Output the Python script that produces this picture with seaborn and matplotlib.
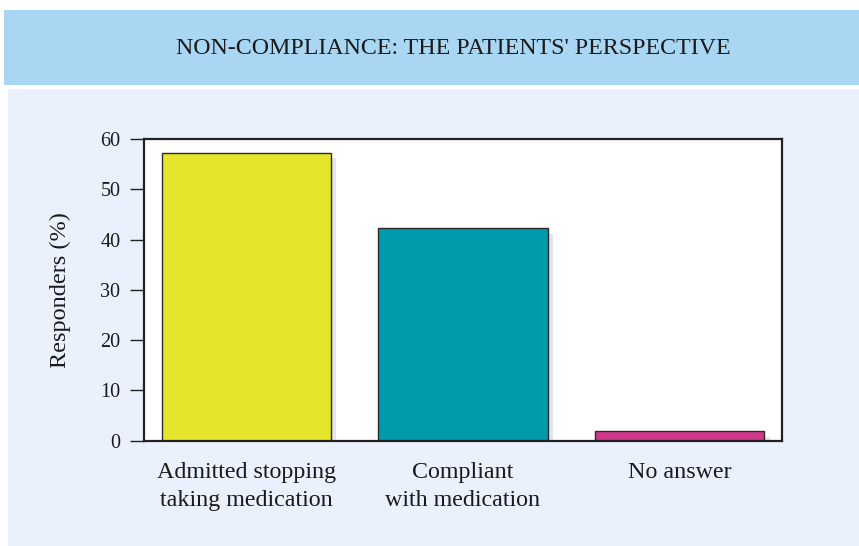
import matplotlib
matplotlib.use("Agg")
import matplotlib.pyplot as plt
import matplotlib.patches as mpatches
import matplotlib.patheffects as pe
import seaborn as sns
import pandas as pd

categories = ["Admitted stopping\ntaking medication", "Compliant\nwith medication", "No answer"]
responders = [57.3, 42.3, 1.9]
bar_colors = ["#e5e52c", "#009aad", "#d1378a"]
title = "NON-COMPLIANCE: THE PATIENTS' PERSPECTIVE"
y_ticks = [0, 10, 20, 30, 40, 50, 60]

sns.set_theme(style="white")
plt.rcParams["font.family"] = ["Liberation Serif", "DejaVu Serif"]

W, H = 859, 546
fig = plt.figure(figsize=(W / 100, H / 100), dpi=100)
fig.patch.set_facecolor("white")

# header band and panel background
fig.patches.append(mpatches.Rectangle((4 / W, 1 - 85 / H), 1 - 4 / W, 75 / H,
                                      transform=fig.transFigure, facecolor="#a8d6f3",
                                      edgecolor="none", zorder=-2))
fig.patches.append(mpatches.Rectangle((8 / W, 0), 1 - 8 / W, 1 - 89 / H,
                                      transform=fig.transFigure, facecolor="#eaf1fd",
                                      edgecolor="none", zorder=-2))
fig.text(453 / W, 1 - 48 / H, title, ha="center", va="center", fontsize=17.2,
         color="#1a1a1a")

ax = fig.add_axes([144 / W, 105.3 / H, (782 - 144) / W, (440.7 - 139) / H])
ax.set_facecolor("white")

df = pd.DataFrame({"category": categories, "value": responders})
sns.barplot(data=df, x="category", y="value", hue="category", palette=bar_colors,
            legend=False, width=0.78, edgecolor="#2a2a2a", linewidth=1.0,
            saturation=1, ax=ax)

for p in ax.patches:
    p.set_path_effects([pe.SimplePatchShadow(offset=(4, -4), shadow_rgbFace="#e3e6ee",
                                             alpha=1.0), pe.Normal()])

ax.set_xlim(-0.472, 2.472)
ax.set_ylim(0, 60)
ax.set_yticks(y_ticks)
ax.set_xlabel("")
ax.set_ylabel("Responders (%)", fontsize=17.5, color="#1a1a1a", labelpad=21)

for s in ax.spines.values():
    s.set_visible(True)
    s.set_color("#222222")
    s.set_linewidth(1.6)

ax.tick_params(axis="y", left=True, length=10, width=1.0, color="#222222",
               direction="out", pad=7, labelsize=14.5, labelcolor="#1a1a1a")
ax.tick_params(axis="x", bottom=False, length=0, pad=15, labelsize=17.3,
               labelcolor="#1a1a1a")
for lbl in ax.get_xticklabels():
    lbl.set_linespacing(1.45)

fig.savefig("out.png", dpi=100, facecolor=fig.get_facecolor())
